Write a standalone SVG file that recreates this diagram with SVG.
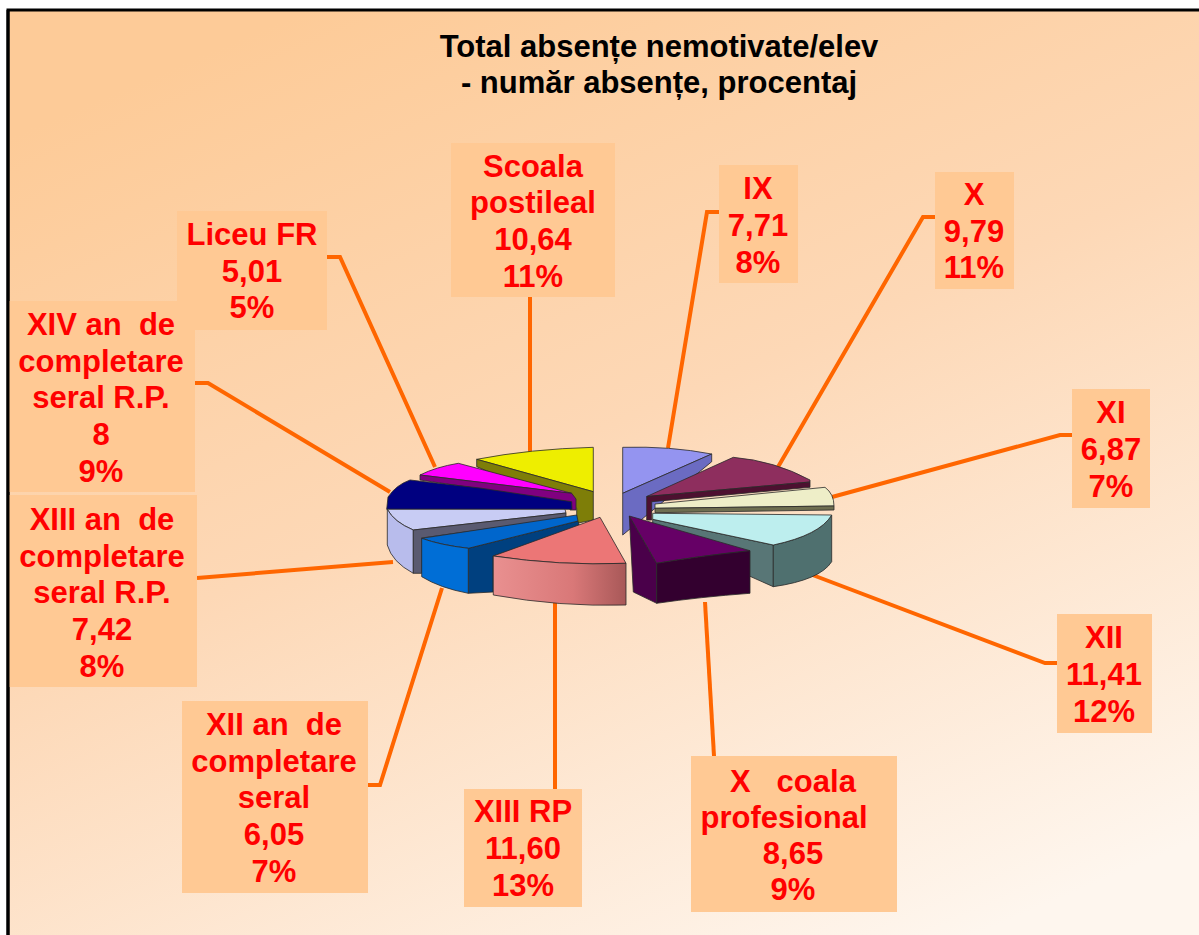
<svg xmlns="http://www.w3.org/2000/svg" width="1199" height="935" viewBox="0 0 1199 935">
<defs>
<linearGradient id="bg" x1="0.25" y1="0" x2="0.8" y2="1">
<stop offset="0" stop-color="#FDCB98"/>
<stop offset="0.45" stop-color="#FDD8B6"/>
<stop offset="1" stop-color="#FEF6EE"/>
</linearGradient>
<linearGradient id="salmonFront" x1="0" y1="0" x2="1" y2="0">
<stop offset="0" stop-color="#E99090"/>
<stop offset="0.6" stop-color="#D97878"/>
<stop offset="1" stop-color="#A85858"/>
</linearGradient>
<style>
.box{fill:#FFC994}
.lbl{font-family:"Liberation Sans",Arial,sans-serif;font-weight:bold;font-size:31px;fill:#FF0000;text-anchor:middle}
.ttl{font-family:"Liberation Sans",Arial,sans-serif;font-weight:bold;font-size:31px;fill:#000000;text-anchor:middle}
.con{fill:none;stroke:#FF6600;stroke-width:4;stroke-linejoin:miter}
.sl path{stroke:#2a2a2a;stroke-width:0.8;stroke-linejoin:round}
</style>
</defs>
<rect x="0" y="0" width="1199" height="935" fill="#FFFFFF"/>
<rect x="8" y="10" width="1195" height="930" fill="url(#bg)" stroke="#000000" stroke-width="3"/>

<g id="title">
<text class="ttl" x="659" y="57">Total absențe nemotivate/elev</text>
<text class="ttl" x="659" y="93">- număr absențe, procentaj</text>
</g>

<g id="connectors">
<polyline class="con" points="530,297 530,452"/>
<polyline class="con" points="327,257 340,257 435,467"/>
<polyline class="con" points="719,212 707,212 668,448"/>
<polyline class="con" points="935,217 923,217 778,467"/>
<polyline class="con" points="1072,435 1060,435 832,497"/>
<polyline class="con" points="1057,663 1045,663 810,574"/>
<polyline class="con" points="714,756 705,602"/>
<polyline class="con" points="555,789 555,603"/>
<polyline class="con" points="368,785 380,785 442,588"/>
<polyline class="con" points="197,578 393,562"/>
<polyline class="con" points="195,383 208,383 390,492"/>
</g>

<g id="pie" class="sl">
<g id="slice-scoala">
<path d="M476.7,459.3 Q530,449 593.3,447.3 L593.3,491.7 Z" fill="#EEEE00"/>
<path d="M476.7,459.3 L593.3,491.7 L593.3,520 L576.7,523.3 L576.7,508.3 L476.7,466.7 Z" fill="#7E7E08"/>
</g>
<g id="slice-liceu">
<path d="M420,475 Q436,467 458.3,463.3 L571.7,493.3 Z" fill="#FF00FF"/>
<path d="M420,475 L571.7,493.3 L576,499 L576,510 L570,510 L570,502 L420,480 Z" fill="#800080"/>
</g>
<g id="slice-xiv">
<path d="M386.7,509.3 L388,497 Q396,485 410,480 L480,488 L571.7,501.7 L572,509.3 Z" fill="#000080"/>
</g>
<g id="slice-ix">
<path d="M622.7,447.3 Q670,446 711.7,454 L622.7,493.3 Z" fill="#9494F0"/>
<path d="M711.7,454 L711.7,461.7 L622.7,535 L622.7,493.3 Z" fill="#6B6BC2"/>
</g>
<g id="slice-x">
<path d="M646.7,496.5 L733.3,457.3 Q775,461 810,480 L810,482 Z" fill="#8E2E5E"/>
<path d="M646.7,496.5 L810,482 L810,487.3 L651.7,501.7 L651.7,520 L646.7,520 Z" fill="#4D1030"/>
</g>
<g id="slice-xi">
<path d="M655,504 L825,487.3 Q834,494 834,506 L655,508.3 Z" fill="#EEEEC8"/>
<path d="M655,508.3 L834,506 L834,510 L655,512.7 Z" fill="#6E6E50"/>
</g>
<g id="slice-xii">
<path d="M652.7,519.3 L773.3,545 L773.3,586.7 L652.7,533 Z" fill="#587676"/>
<path d="M773.3,545 Q820,535 831.7,515 L831.7,561.7 Q820,580 773.3,586.7 Z" fill="#4F706F"/>
<path d="M652.7,513.3 L831.7,515 Q820,535 773.3,545 L652.7,519.3 Z" fill="#BDEEEE"/>
</g>
<g id="slice-xiii-an">
<path d="M387.3,509.3 L565,509.3 L566,513 L413.3,530 Q394,522 387.3,509.3 Z" fill="#C8CCF4"/>
<path d="M387.3,509.3 Q394,522 413.3,530 L413.3,573.3 Q392,562 387.3,545 Z" fill="#B8BCEC"/>
<path d="M413.3,530 L566,513 L566,518 L421.7,538 L421.7,573.3 L413.3,573.3 Z" fill="#5A5A70"/>
</g>
<g id="slice-xii-an">
<path d="M468.3,548.3 L578,521 L580,528 L493,556 L493,592 L468.3,593.3 Z" fill="#00407F"/>
<path d="M421.7,538.3 L576.7,515 L578,521 L468.3,548.3 Q440,545 421.7,538.3 Z" fill="#0066CC"/>
<path d="M421.7,538.3 Q440,545 468.3,548.3 L468.3,593.3 Q440,588 421.7,576.7 Z" fill="#006ED6"/>
</g>
<g id="slice-xiii-rp">
<path d="M600,517.3 L626,563.3 Q560,566 493.3,556 Z" fill="#EC7676"/>
<path d="M493.3,556 Q560,566 626,563.3 L626,605 Q560,607 493.3,595 Z" fill="url(#salmonFront)"/>
</g>
<g id="slice-x-prof">
<path d="M629.3,516 L656.7,563.3 L656.7,603.3 L633.3,592 Z" fill="#4A004A"/>
<path d="M629.3,516 L750,550.7 Q700,556 656.7,563.3 Z" fill="#660066"/>
<path d="M656.7,563.3 Q700,556 750,550.7 L750,593.3 Q700,597 656.7,603.3 Z" fill="#33002F"/>
</g>
</g>

<g id="label-scoala">
<rect class="box" x="451" y="143" width="164" height="154"/>
<text class="lbl" x="533" y="177">Scoala</text>
<text class="lbl" x="533" y="213">postileal</text>
<text class="lbl" x="533" y="250">10,64</text>
<text class="lbl" x="533" y="287">11%</text>
</g>
<g id="label-liceu">
<rect class="box" x="177" y="211" width="150" height="119"/>
<text class="lbl" x="252" y="245">Liceu FR</text>
<text class="lbl" x="252" y="282">5,01</text>
<text class="lbl" x="252" y="318">5%</text>
</g>
<g id="label-ix">
<rect class="box" x="719" y="165" width="79" height="118"/>
<text class="lbl" x="758" y="199">IX</text>
<text class="lbl" x="758" y="236">7,71</text>
<text class="lbl" x="758" y="273">8%</text>
</g>
<g id="label-x">
<rect class="box" x="935" y="172" width="79" height="117"/>
<text class="lbl" x="974" y="205">X</text>
<text class="lbl" x="974" y="242">9,79</text>
<text class="lbl" x="974" y="278">11%</text>
</g>
<g id="label-xi">
<rect class="box" x="1072" y="389" width="78" height="119"/>
<text class="lbl" x="1111" y="423">XI</text>
<text class="lbl" x="1111" y="460">6,87</text>
<text class="lbl" x="1111" y="497">7%</text>
</g>
<g id="label-xii">
<rect class="box" x="1057" y="614" width="95" height="119"/>
<text class="lbl" x="1104" y="648">XII</text>
<text class="lbl" x="1104" y="685">11,41</text>
<text class="lbl" x="1104" y="722">12%</text>
</g>
<g id="label-x-prof">
<rect class="box" x="691" y="756" width="206" height="156"/>
<text class="lbl" x="793" y="792" xml:space="preserve">X   coala</text>
<text class="lbl" x="784" y="828">profesional</text>
<text class="lbl" x="793" y="864">8,65</text>
<text class="lbl" x="793" y="900">9%</text>
</g>
<g id="label-xiii-rp">
<rect class="box" x="464" y="789" width="118" height="118"/>
<text class="lbl" x="523" y="822">XIII RP</text>
<text class="lbl" x="523" y="859">11,60</text>
<text class="lbl" x="523" y="896">13%</text>
</g>
<g id="label-xii-an">
<rect class="box" x="182" y="701" width="186" height="192"/>
<text class="lbl" x="274" y="735" xml:space="preserve">XII an  de</text>
<text class="lbl" x="274" y="772">completare</text>
<text class="lbl" x="274" y="808">seral</text>
<text class="lbl" x="274" y="845">6,05</text>
<text class="lbl" x="274" y="882">7%</text>
</g>
<g id="label-xiii-an">
<rect class="box" x="9" y="495" width="188" height="192"/>
<text class="lbl" x="102" y="530" xml:space="preserve">XIII an  de</text>
<text class="lbl" x="102" y="567">completare</text>
<text class="lbl" x="102" y="603">seral R.P.</text>
<text class="lbl" x="102" y="640">7,42</text>
<text class="lbl" x="102" y="677">8%</text>
</g>
<g id="label-xiv">
<rect class="box" x="9" y="301" width="186" height="191"/>
<text class="lbl" x="101" y="335" xml:space="preserve">XIV an  de</text>
<text class="lbl" x="101" y="372">completare</text>
<text class="lbl" x="101" y="408">seral R.P.</text>
<text class="lbl" x="101" y="445">8</text>
<text class="lbl" x="101" y="482">9%</text>
</g>
<line x1="8" y1="10" x2="8" y2="935" stroke="#000000" stroke-width="3"/>
</svg>
